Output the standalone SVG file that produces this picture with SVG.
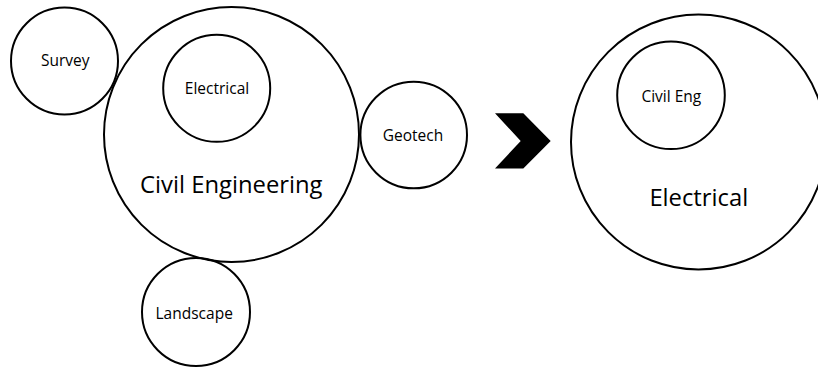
<svg xmlns="http://www.w3.org/2000/svg" width="818" height="369" viewBox="0 0 818 369">
  <style>
    .ring { fill: none; stroke: #000; stroke-width: 2; }
    .lbl { font-family: "Open Sans", "Noto Sans", "Liberation Sans", sans-serif; fill: #000; text-anchor: middle; }
    .sm { font-size: 15.5px; }
    .lg { font-size: 23.8px; }
  </style>
  <rect width="818" height="369" fill="#fff"/>

  <!-- left cluster: disciplines around civil engineering -->
  <g id="survey">
    <circle class="ring" cx="64.5" cy="61" r="53.5"/>
    <text class="lbl sm" x="65.3" y="66">Survey</text>
  </g>
  <g id="civil-engineering">
    <circle class="ring" cx="231.5" cy="134.5" r="127.5"/>
    <text class="lbl lg" x="231.3" y="192.7">Civil Engineering</text>
  </g>
  <g id="electrical-inner">
    <circle class="ring" cx="216.7" cy="88.3" r="53.5"/>
    <text class="lbl sm" x="217" y="94">Electrical</text>
  </g>
  <g id="geotech">
    <circle class="ring" cx="413.7" cy="135" r="53.3"/>
    <text class="lbl sm" x="413" y="141">Geotech</text>
  </g>
  <g id="landscape">
    <circle class="ring" cx="196" cy="312" r="54"/>
    <text class="lbl sm" x="194.2" y="319">Landscape</text>
  </g>

  <!-- transition chevron -->
  <g id="connectors">
    <polygon points="495,113.3 523.3,113.3 550.7,141 523.3,168.5 495,168.5 520.7,141" fill="#000"/>
  </g>

  <!-- right cluster: electrical containing civil -->
  <g id="electrical">
    <circle class="ring" cx="698.5" cy="142" r="127.5"/>
    <text class="lbl lg" x="698.8" y="205.7">Electrical</text>
  </g>
  <g id="civil-eng-inner">
    <circle class="ring" cx="671" cy="95.3" r="53.8"/>
    <text class="lbl sm" x="671.3" y="101.7">Civil Eng</text>
  </g>
</svg>
